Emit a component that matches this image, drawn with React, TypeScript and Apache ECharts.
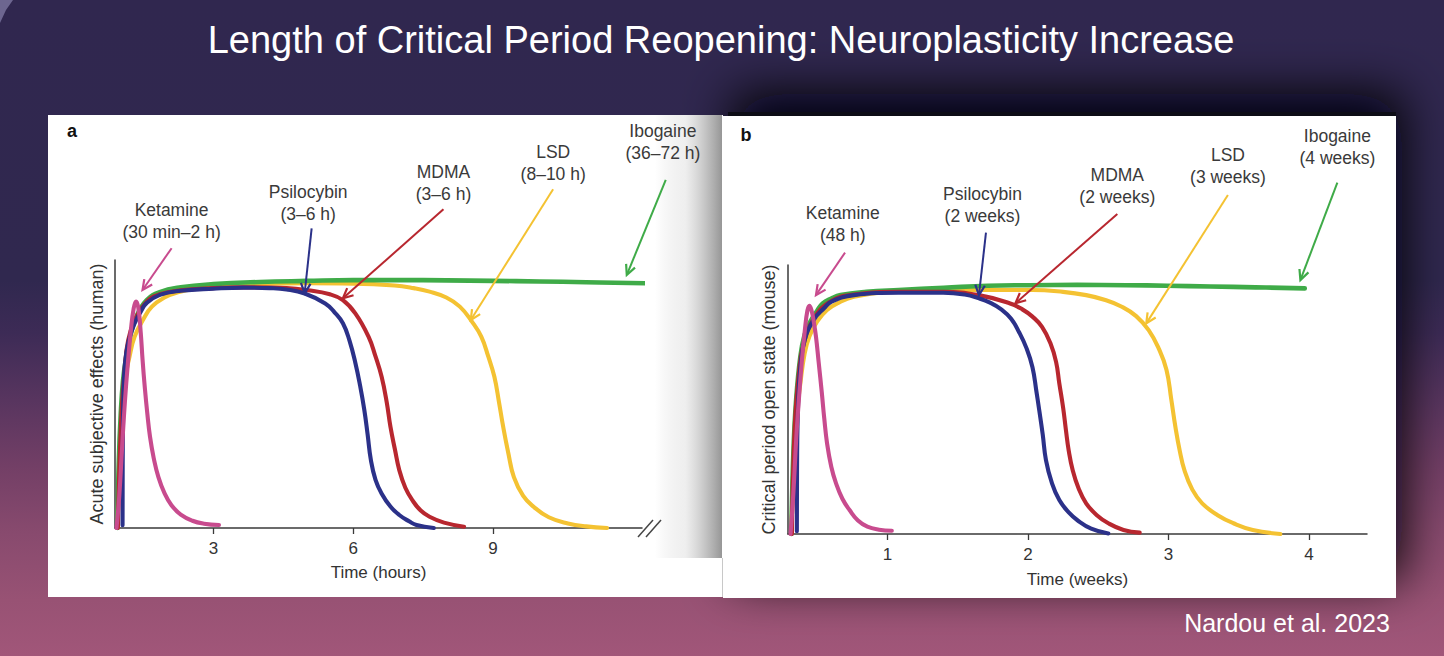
import React, { useEffect, useRef } from "react";
import * as echarts from "echarts";

// ---------- DATA ----------
const hoursTicks = [3, 6, 9];
const weeksTicks = [1, 2, 3, 4];

const drugNames = ["Ketamine", "Psilocybin", "MDMA", "LSD", "Ibogaine"];
const durationsHuman = ["(30 min–2 h)", "(3–6 h)", "(3–6 h)", "(8–10 h)", "(36–72 h)"];
const durationsMouse = ["(48 h)", "(2 weeks)", "(2 weeks)", "(3 weeks)", "(4 weeks)"];
const drugColors = ["#c84b8e", "#2b3189", "#b8272f", "#f4c232", "#3fab48"];

// Panel a: time in hours, acute subjective effects (0..1)
const ketamineA = [[0.92,0],[0.98,0.12],[1.04,0.3],[1.1,0.47],[1.17,0.627],[1.23,0.74],[1.29,0.82],[1.34,0.845],[1.39,0.82],[1.44,0.73],[1.48,0.627],[1.53,0.52],[1.58,0.43],[1.64,0.34],[1.72,0.26],[1.82,0.19],[1.95,0.13],[2.1,0.085],[2.3,0.05],[2.55,0.027],[2.8,0.016],[3.12,0.011]];
const psilocybinA = [[1.05,0.01],[1.055,0.3],[1.07,0.5],[1.1,0.61],[1.17,0.69],[1.3,0.76],[1.45,0.81],[1.57,0.84],[1.85,0.87],[2.3,0.885],[3.0,0.893],[3.64,0.897],[4.2,0.895],[4.57,0.89],[4.96,0.875],[5.4,0.838],[5.6,0.805],[5.78,0.764],[5.92,0.7],[6.05,0.614],[6.15,0.53],[6.24,0.44],[6.31,0.35],[6.38,0.254],[6.48,0.18],[6.61,0.129],[6.8,0.08],[6.99,0.0485],[7.2,0.025],[7.36,0.011],[7.73,0.0]];
const mdmaA = [[0.95,0],[1.02,0.4],[1.1,0.6],[1.17,0.7],[1.3,0.77],[1.57,0.845],[1.85,0.872],[2.3,0.887],[3.0,0.895],[3.64,0.898],[4.57,0.895],[5.03,0.887],[5.5,0.872],[5.78,0.85],[6.05,0.8],[6.33,0.714],[6.48,0.64],[6.61,0.565],[6.72,0.47],[6.8,0.378],[6.9,0.29],[6.99,0.216],[7.12,0.15],[7.27,0.104],[7.45,0.065],[7.64,0.042],[7.95,0.02],[8.38,0.005]];
const lsdA = [[0.94,0],[0.98,0.25],[1.03,0.42],[1.1,0.55],[1.2,0.64],[1.31,0.714],[1.5,0.78],[1.68,0.826],[1.95,0.86],[2.24,0.88],[2.7,0.895],[3.17,0.903],[4.0,0.91],[5.03,0.913],[6.0,0.912],[6.89,0.905],[7.3,0.895],[7.64,0.882],[8.0,0.86],[8.29,0.826],[8.55,0.77],[8.75,0.714],[8.9,0.64],[9.03,0.565],[9.13,0.47],[9.22,0.378],[9.33,0.28],[9.45,0.19],[9.65,0.12],[9.87,0.08],[10.2,0.04],[10.61,0.017],[11.0,0.006],[11.45,0]];
const ibogaineA = [[0.94,0],[0.97,0.25],[1.01,0.42],[1.06,0.55],[1.13,0.64],[1.22,0.72],[1.35,0.79],[1.57,0.85],[1.85,0.88],[2.3,0.898],[3.0,0.91],[4.0,0.918],[5.0,0.922],[6.0,0.925],[7.0,0.925],[8.0,0.924],[9.0,0.922],[10.0,0.92],[11.0,0.917],[12.33,0.913]];

// Panel b: time in weeks, critical period open state (0..1)
const ketamineB = [[0.31,0],[0.33,0.15],[0.35,0.35],[0.364,0.461],[0.39,0.64],[0.412,0.758],[0.43,0.83],[0.444,0.848],[0.46,0.83],[0.475,0.79],[0.491,0.734],[0.51,0.64],[0.533,0.523],[0.55,0.43],[0.57,0.337],[0.6,0.25],[0.634,0.188],[0.68,0.13],[0.73,0.089],[0.79,0.05],[0.857,0.027],[0.94,0.016],[1.031,0.012]];
const psilocybinB = [[0.355,0.01],[0.357,0.3],[0.365,0.5],[0.38,0.62],[0.41,0.72],[0.475,0.796],[0.55,0.84],[0.602,0.864],[0.761,0.888],[1.079,0.897],[1.397,0.897],[1.55,0.89],[1.651,0.876],[1.73,0.86],[1.81,0.835],[1.88,0.8],[1.937,0.75],[1.99,0.69],[2.032,0.62],[2.06,0.53],[2.08,0.461],[2.105,0.37],[2.128,0.275],[2.17,0.19],[2.223,0.126],[2.29,0.08],[2.35,0.052],[2.45,0.02],[2.572,0.002]];
const mdmaB = [[0.32,0],[0.34,0.4],[0.37,0.6],[0.4,0.7],[0.475,0.8],[0.6,0.866],[0.761,0.89],[1.079,0.9],[1.397,0.9],[1.65,0.888],[1.873,0.857],[1.96,0.835],[2.032,0.808],[2.1,0.77],[2.16,0.709],[2.2,0.64],[2.223,0.56],[2.25,0.47],[2.27,0.387],[2.29,0.31],[2.318,0.238],[2.36,0.17],[2.414,0.114],[2.49,0.07],[2.572,0.04],[2.68,0.015],[2.795,0.005]];
const lsdB = [[0.316,0],[0.33,0.25],[0.35,0.42],[0.38,0.56],[0.41,0.67],[0.444,0.734],[0.5,0.79],[0.57,0.833],[0.66,0.862],[0.761,0.882],[1.0,0.9],[1.397,0.907],[2.032,0.907],[2.25,0.9],[2.414,0.888],[2.55,0.87],[2.668,0.845],[2.77,0.81],[2.859,0.758],[2.93,0.69],[2.986,0.61],[3.02,0.5],[3.049,0.399],[3.08,0.31],[3.113,0.238],[3.17,0.165],[3.24,0.114],[3.35,0.07],[3.462,0.04],[3.6,0.015],[3.796,0]];
const ibogaineB = [[0.316,0],[0.33,0.3],[0.35,0.5],[0.38,0.66],[0.41,0.74],[0.444,0.783],[0.5,0.83],[0.539,0.857],[0.6,0.875],[0.666,0.888],[0.85,0.9],[1.079,0.907],[1.4,0.915],[1.714,0.923],[2.0,0.925],[2.35,0.926],[2.7,0.925],[2.99,0.923],[3.3,0.92],[3.62,0.917],[3.97,0.913]];

// Arrow anchors in data coordinates: [from, to] per drug (Ketamine, Psilocybin, MDMA, LSD, Ibogaine)
const arrowsA = [[[2.103,1.044],[1.479,0.888]],[[5.109,1.118],[4.959,0.876]],[[7.938,1.189],[5.779,0.857]],[[10.292,1.264],[8.524,0.776]],[[12.71,1.299],[11.873,0.944]]];
const arrowsB = [[[0.698,1.046],[0.491,0.888]],[[1.701,1.12],[1.651,0.888]],[[2.636,1.19],[1.911,0.858]],[[3.423,1.26],[2.842,0.783]],[[4.202,1.306],[3.939,0.944]]];

// ---------- LAYOUT ----------
const FONT = '"Liberation Sans", Arial, Helvetica, sans-serif';
const labelPosA = [[171.6,221.4],[308.2,202.5],[443.5,183.4],[553.2,163.4],[662.9,141.7]];
const labelPosB = [[842.8,223.9],[982.5,205],[1117.3,185.9],[1228,165.9],[1337.4,146.7]];

export default function App() {
  const ref = useRef<HTMLDivElement>(null);
  useEffect(() => {
    if (!ref.current) return;
    const chart = echarts.init(ref.current, undefined, { renderer: "svg" });

    const seriesOrder = [3, 4, 2, 1, 0]; // LSD, Ibogaine, MDMA, Psilocybin, Ketamine
    const dataA = [ketamineA, psilocybinA, mdmaA, lsdA, ibogaineA];
    const dataB = [ketamineB, psilocybinB, mdmaB, lsdB, ibogaineB];
    const mk = (i: number, d: number[][], gi: number) => ({
      type: "line",
      name: drugNames[i] + (gi === 0 ? " (human)" : " (mouse)"),
      xAxisIndex: gi,
      yAxisIndex: gi,
      data: d,
      showSymbol: false,
      symbol: "none",
      smooth: 0.45,
      clip: false,
      silent: true,
      z: 3,
      lineStyle: { color: drugColors[i], width: i === 4 ? 4.6 : 4.1, cap: "round", join: "round" },
    });
    const series: any[] = [];
    seriesOrder.forEach((i) => series.push(mk(i, dataA[i], 0)));
    seriesOrder.forEach((i) => series.push(mk(i, dataB[i], 1)));

    const axisCommonX = (min: number, max: number, ticks: number[], name: string, gap: number, gi: number) => ({
      type: "value",
      gridIndex: gi,
      min,
      max,
      name,
      nameLocation: "middle",
      nameGap: gap,
      nameTextStyle: { fontSize: 17, color: "#333", fontFamily: FONT },
      axisLine: { show: true, lineStyle: { color: "#3a3a3a", width: 1.5 } },
      axisTick: { show: true, length: 6, customValues: ticks, lineStyle: { color: "#3a3a3a", width: 1.3 } },
      axisLabel: { show: true, customValues: ticks, fontSize: 17, color: "#333", margin: 12, fontFamily: FONT },
      splitLine: { show: false },
    });
    const axisCommonY = (name: string, gap: number, gi: number) => ({
      type: "value",
      gridIndex: gi,
      min: 0,
      max: 1,
      name,
      nameLocation: "middle",
      nameGap: gap,
      nameTextStyle: { fontSize: 18, color: "#333", fontFamily: FONT },
      axisLine: { show: true, lineStyle: { color: "#3a3a3a", width: 1.5 } },
      axisTick: { show: false },
      axisLabel: { show: false },
      splitLine: { show: false },
    });

    chart.setOption({
      animation: false,
      textStyle: { fontFamily: FONT },
      grid: [
        { left: 115, top: 260, width: 527, height: 268 },
        { left: 788, top: 265, width: 579, height: 269 },
      ],
      xAxis: [
        axisCommonX(0.888, 12.2, hoursTicks, "Time (hours)", 36, 0),
        axisCommonX(0.292, 4.413, weeksTicks, "Time (weeks)", 37, 1),
      ],
      yAxis: [
        axisCommonY("Acute subjective effects (human)", 9.5, 0),
        axisCommonY("Critical period open state (mouse)", 10, 1),
      ],
      series,
    });

    // ----- decorations -----
    const g: any[] = [];
    g.push({
      type: "rect", id: "bg", z: -100, silent: true,
      shape: { x: 0, y: 0, width: 1444, height: 656 },
      style: {
        fill: new echarts.graphic.LinearGradient(0, 0, 0, 1, [
          { offset: 0, color: "#30274f" },
          { offset: 0.427, color: "#30284f" },
          { offset: 0.508, color: "#3d2b56" },
          { offset: 0.61, color: "#58355f" },
          { offset: 0.712, color: "#733f66" },
          { offset: 0.8125, color: "#884a6e" },
          { offset: 0.915, color: "#985274" },
          { offset: 1, color: "#a15679" },
        ]),
      },
    });
    g.push({ type: "polygon", id: "corner", z: -99, silent: true, shape: { points: [[0, 0], [13, 0], [6, 10], [0, 23]] }, style: { fill: "#6d6690" } });
    g.push({
      type: "rect", id: "panelBshadow", z: -60, silent: true,
      shape: { x: 728, y: 112, width: 668, height: 486 },
      style: { fill: "#0c0816", shadowBlur: 50, shadowColor: "rgba(6,3,12,1)", shadowOffsetY: -18, shadowOffsetX: 6 },
    });
    g.push({ type: "rect", id: "panelA", z: -50, silent: true, shape: { x: 48, y: 115, width: 675, height: 482 }, style: { fill: "#ffffff" } });
    g.push({
      type: "rect", id: "panelAfold", z: -49, silent: true,
      shape: { x: 655, y: 115, width: 67, height: 443 },
      style: {
        fill: new echarts.graphic.LinearGradient(0, 0, 1, 0, [
          { offset: 0, color: "rgba(150,150,150,0)" },
          { offset: 0.45, color: "rgba(190,190,190,0.25)" },
          { offset: 0.8, color: "rgba(165,165,165,0.75)" },
          { offset: 1, color: "rgba(150,150,150,1)" },
        ]),
      },
    });
    g.push({ type: "line", id: "seam", z: -47, silent: true, shape: { x1: 722.5, y1: 558, x2: 722.5, y2: 597 }, style: { stroke: "#c8c8c8", lineWidth: 1 } });
    g.push({ type: "rect", id: "panelB", z: -48, silent: true, shape: { x: 723, y: 116, width: 673, height: 482 }, style: { fill: "#ffffff" } });

    g.push({
      type: "text", id: "title", z: 20, silent: true,
      style: { text: "Length of Critical Period Reopening: Neuroplasticity Increase", x: 721, y: 40, fill: "#ffffff", fontSize: 38, fontFamily: FONT, align: "center", verticalAlign: "middle" },
    });
    g.push({
      type: "text", id: "credit", z: 20, silent: true,
      style: { text: "Nardou et al. 2023", x: 1287, y: 623, fill: "#ffffff", fontSize: 25, fontFamily: FONT, align: "center", verticalAlign: "middle" },
    });
    g.push({ type: "text", id: "la", z: 20, silent: true, style: { text: "a", x: 72, y: 131, fill: "#111", fontSize: 18, fontWeight: "bold", fontFamily: FONT, align: "center", verticalAlign: "middle" } });
    g.push({ type: "text", id: "lb", z: 20, silent: true, style: { text: "b", x: 746, y: 135, fill: "#111", fontSize: 18, fontWeight: "bold", fontFamily: FONT, align: "center", verticalAlign: "middle" } });

    // axis break on panel a
    const brk = chart.convertToPixel({ gridIndex: 0 }, [12.2, 0]) as number[];
    [0, 8].forEach((dx, k) => {
      g.push({ type: "line", id: "brk" + k, z: 20, silent: true, shape: { x1: brk[0] - 4 + dx, y1: brk[1] + 9, x2: brk[0] + 11 + dx, y2: brk[1] - 8 }, style: { stroke: "#444", lineWidth: 1.5 } });
    });

    const drawArrows = (arrows: number[][][], gi: number, pos: number[][], texts: string[], tag: string) => {
      arrows.forEach((a, i) => {
        const s = chart.convertToPixel({ gridIndex: gi }, a[0]) as number[];
        const e = chart.convertToPixel({ gridIndex: gi }, a[1]) as number[];
        const dx = e[0] - s[0], dy = e[1] - s[1];
        const len = Math.hypot(dx, dy);
        const ux = dx / len, uy = dy / len;
        const L = 10, W = 4.8;
        const b1 = [e[0] - ux * L - uy * W, e[1] - uy * L + ux * W];
        const b2 = [e[0] - ux * L + uy * W, e[1] - uy * L - ux * W];
        const c = drugColors[i];
        g.push({ type: "line", id: `${tag}al${i}`, z: 10, silent: true, shape: { x1: s[0], y1: s[1], x2: e[0] - ux * 1.5, y2: e[1] - uy * 1.5 }, style: { stroke: c, lineWidth: 2 } });
        g.push({ type: "polyline", id: `${tag}ah${i}`, z: 10, silent: true, shape: { points: [b1, e, b2] }, style: { stroke: c, lineWidth: 2.2, fill: null, lineJoin: "miter" } });
        g.push({
          type: "text", id: `${tag}t${i}`, z: 20, silent: true,
          style: { text: drugNames[i] + "\n" + texts[i], x: pos[i][0], y: pos[i][1], fill: "#3a3a3a", fontSize: 17.5, fontFamily: FONT, align: "center", verticalAlign: "middle", lineHeight: 22 },
        });
      });
    };
    drawArrows(arrowsA, 0, labelPosA, durationsHuman, "a");
    drawArrows(arrowsB, 1, labelPosB, durationsMouse, "b");

    chart.setOption({ graphic: { elements: g } });

    return () => chart.dispose();
  }, []);

  return <div ref={ref} style={{ position: "absolute", left: 0, top: 0, width: 1444, height: 656 }} />;
}
